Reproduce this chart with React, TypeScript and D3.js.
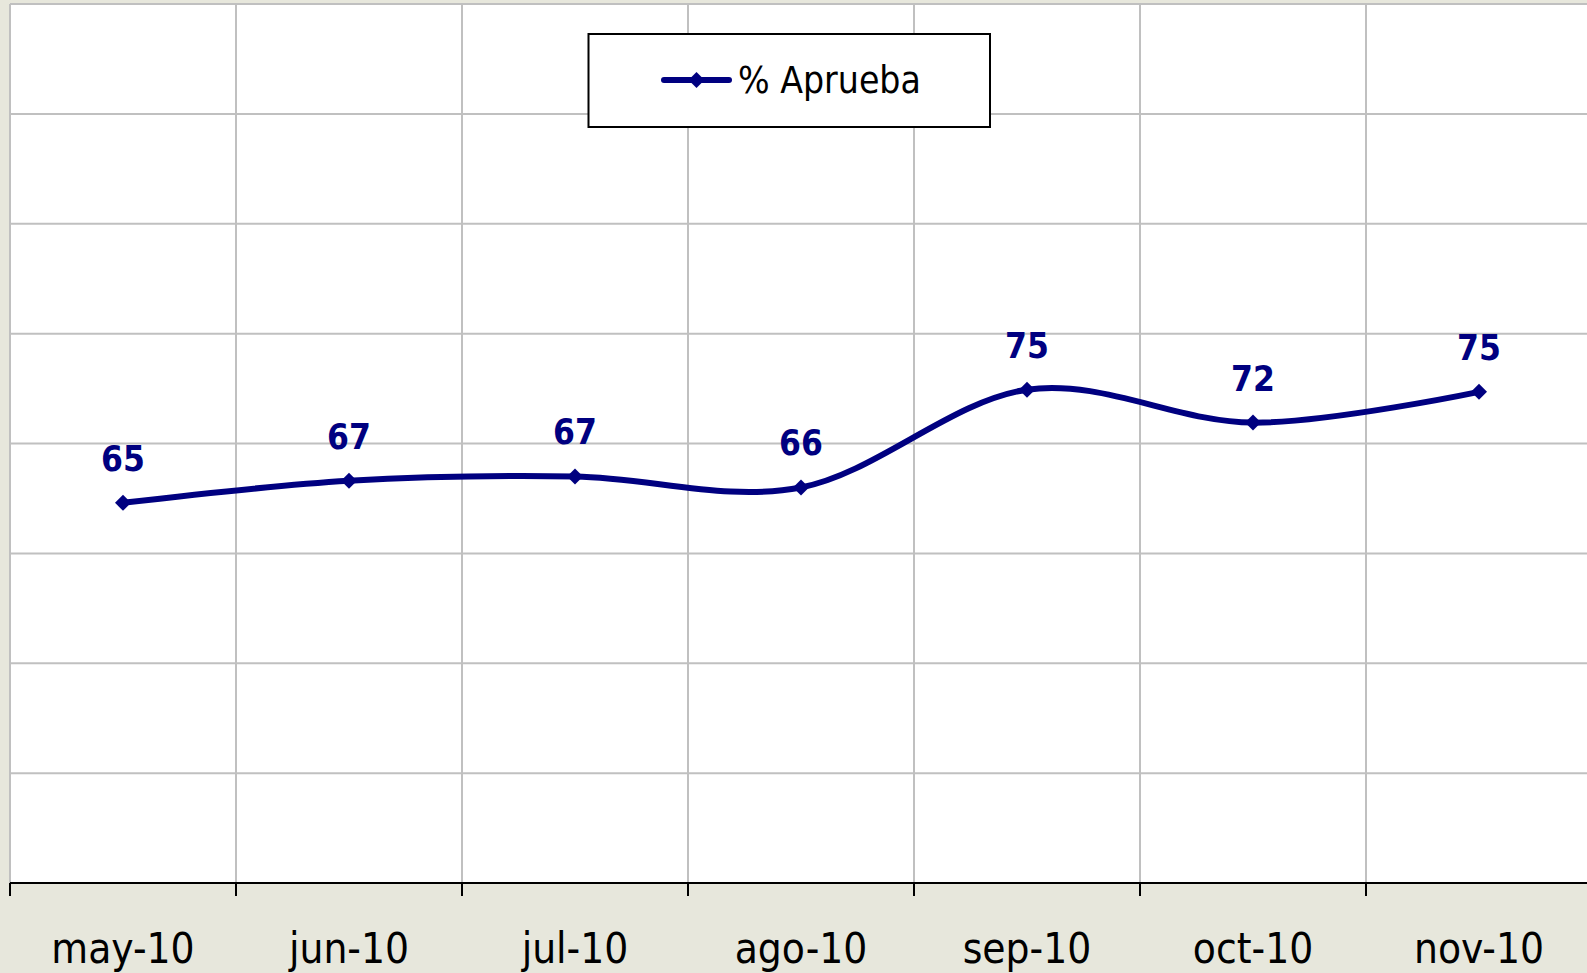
import React from "react";
import * as d3 from "d3";

const months = ["may-10", "jun-10", "jul-10", "ago-10", "sep-10", "oct-10", "nov-10"];
const aprueba = [64.6, 66.6, 67.0, 66.0, 74.9, 71.9, 74.7];
const seriesName = "% Aprueba";
const yTicks = [30, 40, 50, 60, 70, 80, 90, 100, 110];

const W = 1587;
const H = 973;
const NAVY = "#000080";
const BG = "#e7e7dc";
const GRID = "#c0c0c0";
const FONT = "'DejaVu Sans Condensed', 'DejaVu Sans', Tahoma, sans-serif";

export default function App() {
  const left = 10;
  const step = 226;
  const top = 4;
  const bottom = 883;

  const x = d3.scaleBand<string>().domain(months).range([left, left + step * months.length]).padding(0);
  const y = d3.scaleLinear().domain([30, 110]).range([bottom, top]);
  const cx = (m: string) => (x(m) as number) + x.bandwidth() / 2;

  const line = d3
    .line<number>()
    .x((_, i) => cx(months[i]))
    .y((d) => y(d))
    .curve(d3.curveCardinal.tension(0));

  const boundaries = d3.range(months.length + 1).map((i) => left + i * x.bandwidth());

  const diamond = (px: number, py: number, r: number) =>
    `M${px},${py - r}L${px + r},${py}L${px},${py + r}L${px - r},${py}Z`;

  return (
    <svg width={W} height={H} style={{ position: "absolute", left: 0, top: 0 }}>
      <rect x={0} y={0} width={W} height={H} fill={BG} />
      <rect x={left} y={top} width={W} height={bottom - top} fill="#ffffff" />
      {yTicks.map((t) => (
        <line key={"h" + t} x1={left} x2={W} y1={y(t)} y2={y(t)} stroke={GRID} strokeWidth={2} />
      ))}
      {boundaries.map((b, i) => (
        <line key={"v" + i} x1={b} x2={b} y1={top} y2={bottom} stroke={GRID} strokeWidth={2} />
      ))}
      <line x1={left} x2={W} y1={bottom} y2={bottom} stroke="#000" strokeWidth={2} />
      {boundaries.map((b, i) => (
        <line key={"t" + i} x1={b} x2={b} y1={bottom} y2={bottom + 13} stroke="#000" strokeWidth={2} />
      ))}
      {months.map((m) => (
        <text
          key={"l" + m}
          x={cx(m)}
          y={963}
          textAnchor="middle"
          fontFamily={FONT}
          fontSize={42}
          fill="#000"
        >
          {m}
        </text>
      ))}
      <path d={line(aprueba) || ""} fill="none" stroke={NAVY} strokeWidth={6} strokeLinejoin="round" />
      {aprueba.map((v, i) => (
        <path key={"m" + i} d={diamond(cx(months[i]), y(v), 8)} fill={NAVY} />
      ))}
      {aprueba.map((v, i) => (
        <text
          key={"d" + i}
          x={cx(months[i])}
          y={y(v) - 32}
          textAnchor="middle"
          fontFamily={FONT}
          fontWeight="bold"
          fontSize={35}
          fill={NAVY}
        >
          {Math.round(v)}
        </text>
      ))}
      <g>
        <rect x={588.5} y={34} width={401.5} height={93} fill="#fff" stroke="#000" strokeWidth={2} />
        <line x1={664} x2={729} y1={80} y2={80} stroke={NAVY} strokeWidth={6} strokeLinecap="round" />
        <path d={diamond(696.5, 80, 8)} fill={NAVY} />
        <text x={738} y={92.5} fontFamily={FONT} fontSize={37} fill="#000">
          {seriesName}
        </text>
      </g>
    </svg>
  );
}
